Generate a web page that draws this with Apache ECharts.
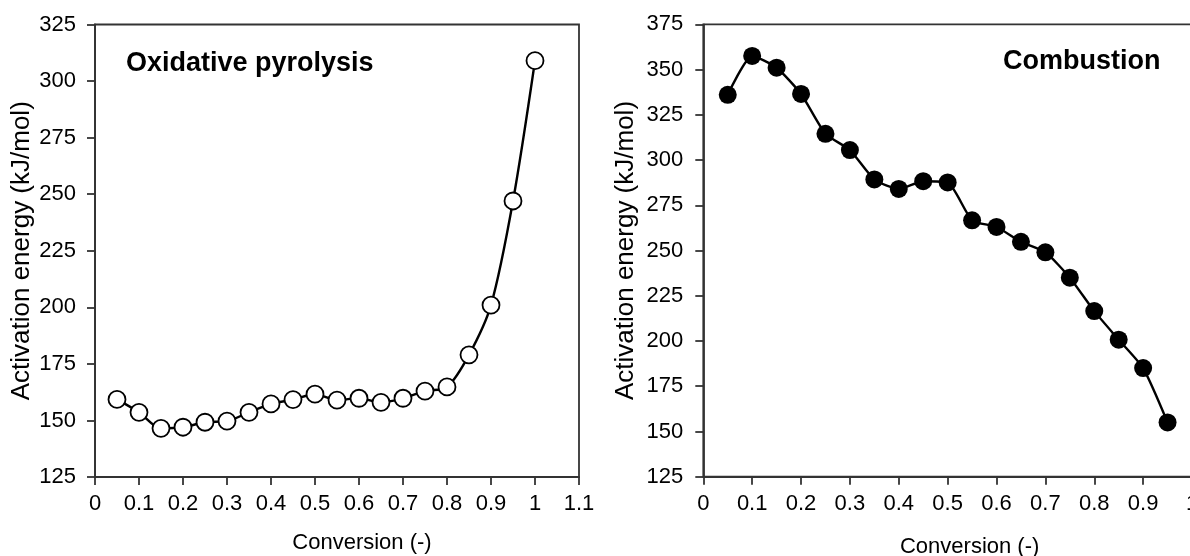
<!DOCTYPE html>
<html>
<head>
<meta charset="utf-8">
<script src="https://cdn.jsdelivr.net/npm/echarts@6/dist/echarts.min.js"></script>
<style>
html,body{margin:0;padding:0;background:#fff;}
#chart{width:1190px;height:556px;}
</style>
</head>
<body>
<div id="chart"></div>
<script>
// ---- Data ----
const leftTitle = 'Oxidative pyrolysis';
const rightTitle = 'Combustion';
const yAxisName = 'Activation energy (kJ/mol)';
const xAxisName = 'Conversion (-)';

const leftConversion = [0.05,0.10,0.15,0.20,0.25,0.30,0.35,0.40,0.45,0.50,0.55,0.60,0.65,0.70,0.75,0.80,0.85,0.90,0.95,1.00];
const leftEnergy = [159.3,153.6,146.5,147.0,149.2,149.7,153.6,157.3,159.2,161.6,159.0,159.8,158.0,159.8,163.0,164.8,179.0,201.0,247.0,309.0];

const rightConversion = [0.05,0.10,0.15,0.20,0.25,0.30,0.35,0.40,0.45,0.50,0.55,0.60,0.65,0.70,0.75,0.80,0.85,0.90,0.95];
const rightEnergy = [336.0,357.5,351.0,336.5,314.5,305.5,289.3,284.0,288.3,287.6,266.7,263.0,254.8,249.0,235.0,216.5,200.7,185.0,155.0];

const leftXRange = [0, 1.1];
const leftYRange = [125, 325];
const rightXRange = [0, 1.0];
const rightYRange = [125, 375];
const xStep = 0.1;
const yStep = 25;

// ---- Chart ----
const FONT = 'Liberation Sans, Arial, sans-serif';
const AX = '#333333';
const chart = echarts.init(document.getElementById('chart'), null, {renderer:'canvas'});

function xAxisCfg(idx, range, nameGap, namePad){
  return {
    type:'value', gridIndex:idx, min:range[0], max:range[1], interval:xStep,
    name:xAxisName, nameLocation:'middle', nameGap:nameGap,
    nameTextStyle:{fontFamily:FONT, fontSize:22, color:'#000', padding:[0,0,0,namePad]},
    axisLine:{show:true, onZero:false, lineStyle:{color:AX, width:1.8}},
    axisTick:{show:true, inside:false, length:8, lineStyle:{color:AX, width:1.8}},
    axisLabel:{fontFamily:FONT, fontSize:22, color:'#000', margin:16, showMaxLabel:true, showMinLabel:true,
      formatter:function(v){return String(Math.round(v*10)/10);}},
    splitLine:{show:false}
  };
}
function yAxisCfg(idx, range, nameGap, labelMargin){
  return {
    type:'value', gridIndex:idx, min:range[0], max:range[1], interval:yStep,
    name:yAxisName, nameLocation:'middle', nameGap:nameGap,
    nameTextStyle:{fontFamily:FONT, fontSize:26, color:'#000'},
    axisLine:{show:true, onZero:false, lineStyle:{color:AX, width:1.8}},
    axisTick:{show:true, inside:false, length:8, lineStyle:{color:AX, width:1.8}},
    axisLabel:{fontFamily:FONT, fontSize:22, color:'#000', margin:labelMargin},
    splitLine:{show:false}
  };
}

const option = {
  animation:false,
  backgroundColor:'#fff',
  title:[
    {text:leftTitle, left:126, top:50, padding:0,
     textStyle:{fontFamily:FONT, fontSize:27, fontWeight:'bold', color:'#000'}},
    {text:rightTitle, left:1003, top:48, padding:0,
     textStyle:{fontFamily:FONT, fontSize:27, fontWeight:'bold', color:'#000'}}
  ],
  grid:[
    {left:95, top:24.5, right:611, bottom:79, show:true, borderColor:AX, borderWidth:1.8, backgroundColor:'transparent',
     containLabel:false, outerBoundsMode:'none'},
    {left:703.3, top:24.3, right:-2, bottom:79.3, show:true, borderColor:AX, borderWidth:1.8, backgroundColor:'transparent',
     containLabel:false, outerBoundsMode:'none'}
  ],
  xAxis:[ xAxisCfg(0, leftXRange, 55, 50), xAxisCfg(1, rightXRange, 59, 44) ],
  yAxis:[ yAxisCfg(0, leftYRange, 60, 19), yAxisCfg(1, rightYRange, 64, 20) ],
  series:[
    {type:'line', xAxisIndex:0, yAxisIndex:0,
     data:leftConversion.map((x,i)=>[x,leftEnergy[i]]),
     smooth:0.3, symbol:'circle', symbolSize:17,
     lineStyle:{color:'#000', width:2.4},
     itemStyle:{color:'#fff', borderColor:'#000', borderWidth:1.8},
     z:3},
    {type:'line', xAxisIndex:1, yAxisIndex:1,
     data:rightConversion.map((x,i)=>[x,rightEnergy[i]]),
     smooth:0.2, symbol:'circle', symbolSize:18,
     lineStyle:{color:'#000', width:2.4},
     itemStyle:{color:'#000', borderColor:'#000', borderWidth:0},
     z:3}
  ]
};
chart.setOption(option);
</script>
</body>
</html>
